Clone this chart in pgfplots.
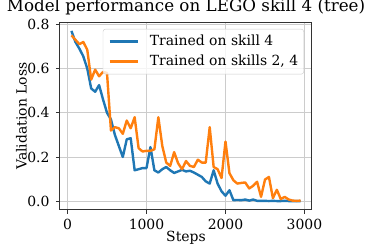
\documentclass[border=0pt]{standalone}
\usepackage{fontspec}
\setmainfont{DejaVu Serif}
\usepackage{pgfplots}
\pgfplotsset{compat=1.18}
\usepackage{pgfplotstable}
\definecolor{mplblue}{HTML}{1F77B4}
\definecolor{mplorange}{HTML}{FF7F0E}
\pgfplotstableread{
x y
50 0.77
100 0.72
150 0.69
200 0.655
250 0.60
300 0.51
350 0.495
400 0.525
450 0.46
500 0.40
550 0.37
600 0.30
650 0.25
700 0.20
750 0.28
800 0.285
850 0.14
900 0.145
950 0.15
1000 0.15
1050 0.245
1100 0.14
1150 0.13
1200 0.145
1250 0.155
1300 0.14
1350 0.128
1400 0.135
1450 0.142
1500 0.135
1550 0.138
1600 0.13
1650 0.12
1700 0.11
1750 0.09
1800 0.08
1850 0.14
1900 0.08
1950 0.045
2000 0.025
2050 0.05
2100 0.005
2150 0.006
2200 0.005
2250 0.008
2300 0.003
2350 0.008
2400 0.002
2450 0.002
2500 0.002
2550 0.001
2600 0.002
2650 0.001
2700 0.001
2750 0.002
2800 0.001
2850 0.001
2900 0.001
2950 0.001
}\blueData
\pgfplotstableread{
x y
50 0.75
100 0.73
150 0.71
200 0.72
250 0.685
300 0.55
350 0.595
400 0.565
450 0.585
500 0.58
550 0.32
600 0.335
650 0.33
700 0.305
750 0.365
800 0.33
850 0.38
900 0.24
950 0.225
1000 0.228
1050 0.228
1100 0.235
1150 0.38
1200 0.25
1250 0.175
1300 0.16
1350 0.222
1400 0.172
1450 0.145
1500 0.182
1550 0.16
1600 0.155
1650 0.188
1700 0.175
1750 0.175
1800 0.335
1850 0.155
1900 0.145
1950 0.105
2000 0.27
2050 0.127
2100 0.095
2150 0.08
2200 0.083
2250 0.085
2300 0.058
2350 0.07
2400 0.088
2450 0.02
2500 0.098
2550 0.11
2600 0.014
2650 0.052
2700 0.01
2750 0.02
2800 0.008
2850 0.003
2900 0.002
2950 0.003
}\orangeData
\begin{document}
\begin{tikzpicture}
\begin{axis}[
  scale only axis,
  width=252bp, height=187.4bp,
  xmin=-95, xmax=3095,
  ymin=-0.0385, ymax=0.8085,
  xtick={0,1000,2000,3000},
  ytick={0,0.2,0.4,0.6,0.8},
  yticklabel style={/pgf/number format/fixed, /pgf/number format/fixed zerofill, /pgf/number format/precision=1},
  scaled x ticks=false,
  xticklabel style={/pgf/number format/set thousands separator={}},
  /pgf/number format/assume math mode=true,
  tick label style={font=\fontsize{14}{16}\selectfont},
  xticklabel style={anchor=base, yshift=-15.2bp},
  yticklabel style={anchor=east, xshift=-3bp},
  title style={font=\fontsize{16.8}{20}\selectfont, at={(0.5,1)}, anchor=base, yshift=5.2bp, inner sep=0pt},
  title={Model performance on LEGO skill 4 (tree)},
  xlabel={Steps},
  ylabel={Validation Loss},
  xlabel style={font=\fontsize{14}{16}\selectfont, at={(axis description cs:0.5,0)}, anchor=base, yshift=-31.9bp, inner sep=0pt},
  ylabel style={font=\fontsize{14}{16}\selectfont, at={(axis description cs:-0.1528,0.5)}, anchor=center, inner sep=0pt},
  grid=major,
  major grid style={color=black!20, line width=1bp},
  axis line style={color=black!80, line width=1bp},
  tick align=outside,
  tick pos=left,
  major tick length=4bp,
  tick style={color=black!80, line width=1bp},
  legend style={at={(0.968,0.965)}, anchor=north east, draw=black!20, fill=white, fill opacity=0.8, text opacity=1, rounded corners=2.5bp, font=\fontsize{14}{16}\selectfont, inner xsep=5.5bp, inner ysep=6bp, row sep=7bp, nodes={inner sep=0pt, text height=10bp, text depth=3bp}},
  legend cell align=left,
  legend image code/.code={\draw[#1, line width=2.4bp] (0bp,0bp) -- (28bp,0bp); \path (39bp,0bp);},
]
\addplot[mplblue, line width=2.4bp, line join=round] table[x=x,y=y] {\blueData};
\addlegendentry{Trained on skill 4}
\addplot[mplorange, line width=2.4bp, line join=round] table[x=x,y=y] {\orangeData};
\addlegendentry{Trained on skills 2, 4}
\end{axis}
\pgfresetboundingbox
\path[use as bounding box] (-60bp,-40.2bp) rectangle (312bp,209.8bp);
\end{tikzpicture}
\end{document}
